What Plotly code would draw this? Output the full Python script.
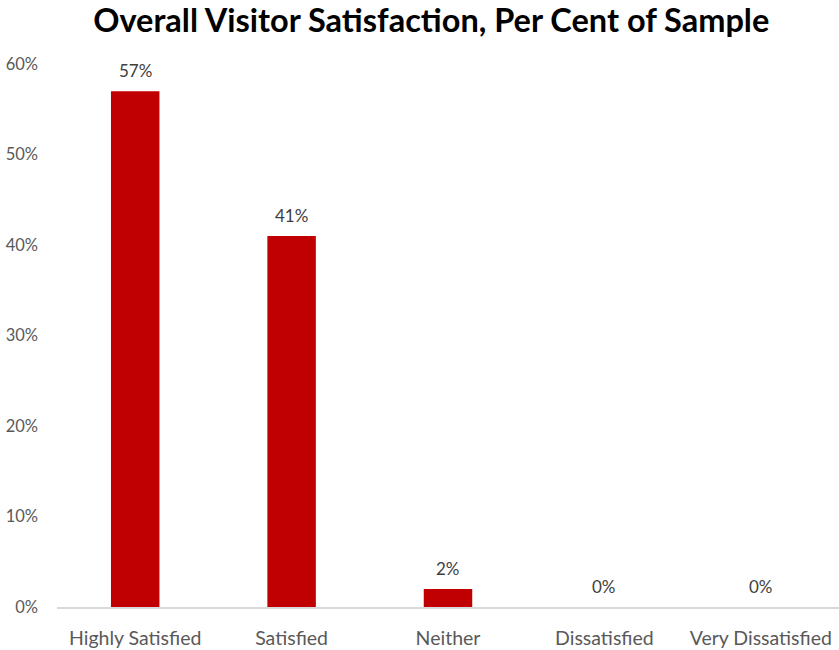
import plotly.graph_objects as go

categories = ["Highly Satisfied", "Satisfied", "Neither", "Dissatisfied", "Very Dissatisfied"]
shares = [0.57, 0.41, 0.02, 0.0, 0.0]
y_ticks = [0, 0.1, 0.2, 0.3, 0.4, 0.5, 0.6]
y_tick_labels = ["0%", "10%", "20%", "30%", "40%", "50%", "60%"]

FONT = "Lato"

fig = go.Figure()
fig.add_trace(go.Bar(
    x=categories,
    y=shares,
    marker=dict(color="#C00000", line=dict(width=0)),
    hoverinfo="skip",
))

# value labels above each bar
for cat, val in zip(categories, shares):
    fig.add_annotation(
        x=cat, y=val, text=f"{round(val * 100)}%",
        showarrow=False, yanchor="bottom", yshift=8,
        font=dict(family=FONT, size=17, color="#404040"),
    )

fig.update_layout(
    width=839, height=650,
    margin=dict(l=57, r=0, t=64, b=43),
    paper_bgcolor="white", plot_bgcolor="white",
    bargap=0.69,
    showlegend=False,
    title=dict(
        text="<b>Overall Visitor Satisfaction, Per Cent of Sample</b>",
        x=0.514, xanchor="center", y=0.968, yanchor="middle",
        font=dict(family=FONT, size=32.5, color="black"),
    ),
    xaxis=dict(
        showgrid=False, zeroline=False,
        showline=True, linecolor="#D9D9D9", linewidth=1.5,
        ticks="", ticklabelstandoff=13,
        tickfont=dict(family=FONT, size=19.5, color="#595959"),
    ),
    yaxis=dict(
        range=[0, 0.6], tickvals=y_ticks, ticktext=y_tick_labels,
        showgrid=False, zeroline=False, showline=False,
        ticks="", ticklabelstandoff=18,
        tickfont=dict(family=FONT, size=16.5, color="#595959"),
    ),
)

fig.write_html("out.html")
